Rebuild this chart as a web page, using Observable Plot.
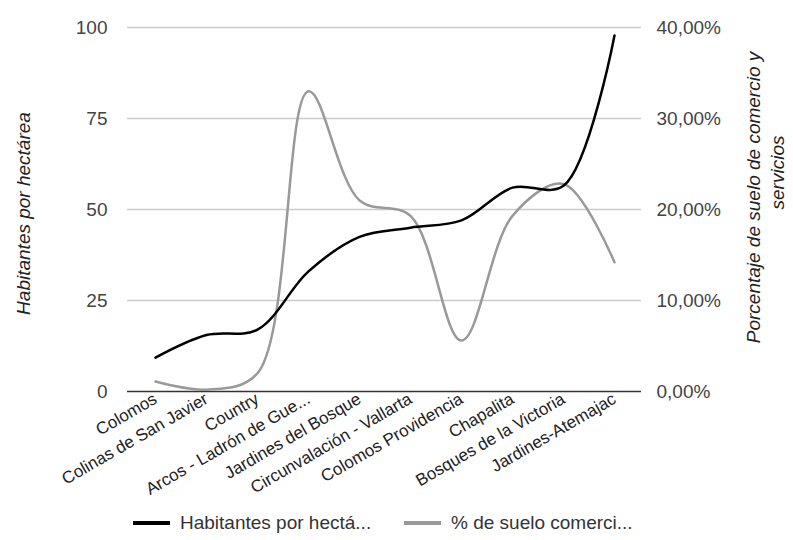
<!DOCTYPE html>
<html>
<head>
<meta charset="utf-8">
<script src="https://cdn.jsdelivr.net/npm/d3@7"></script>
<script src="https://cdn.jsdelivr.net/npm/@observablehq/plot@0.6"></script>
<style>
  body { margin: 0; background: #fff; font-family: Arial, "Liberation Sans", sans-serif; }
  #legend { position: relative; height: 40px; font-size: 19px; color: #333; }
  .item { position: absolute; top: 12px; display: flex; align-items: center; }
  .sw { width: 37px; height: 4px; margin-right: 10px; }
</style>
</head>
<body>
<div id="chart"></div>
<div id="legend"></div>
<script>
const categories = ["Colomos", "Colinas de San Javier", "Country", "Arcos - Ladrón de Gue...", "Jardines del Bosque", "Circunvalación - Vallarta", "Colomos Providencia", "Chapalita", "Bosques de la Victoria", "Jardines-Atemajac"];
const habitantes = [9.3, 15.5, 17, 33, 42.5, 45, 47, 56, 56.5, 97.8];
const pctSuelo = [0.011, 0.002, 0.02, 0.33, 0.21, 0.193, 0.056, 0.193, 0.228, 0.142];
const leftTicks = [0, 25, 50, 75, 100];
const rightTicks = [0, 0.1, 0.2, 0.3, 0.4];
const seriesNames = ["Habitantes por hectá...", "% de suelo comerci..."];
const leftTitle = "Habitantes por hectárea";
const rightTitleLines = ["Porcentaje de suelo de comercio y", "servicios"];

const ratio = 100 / 0.4;
const rowsH = categories.map((c, i) => ({cat: c, v: habitantes[i]}));
const rowsP = categories.map((c, i) => ({cat: c, v: pctSuelo[i] * ratio}));
const fmtPct = p => (p * 100).toFixed(2).replace(".", ",") + "%";
const font = "Arial, 'Liberation Sans', sans-serif";

const chart = Plot.plot({
  width: 793,
  height: 500,
  marginLeft: 127,
  marginRight: 152,
  marginTop: 27,
  marginBottom: 109,
  style: {fontFamily: font, fontSize: "19px", color: "#444", background: "#fff"},
  x: {type: "point", domain: categories, padding: 0.5},
  y: {domain: [0, 100]},
  marks: [
    Plot.gridY(leftTicks.filter(d => d > 0), {stroke: "#ccc", strokeOpacity: 1, strokeWidth: 1.5}),
    Plot.ruleY([0], {stroke: "#333", strokeWidth: 1.5}),
    Plot.axisY(leftTicks, {anchor: "left", tickSize: 0, tickPadding: 20, fontSize: 19, fill: "#444", label: null}),
    Plot.axisY(rightTicks.map(p => p * ratio), {anchor: "right", tickSize: 0, tickPadding: 15, fontSize: 19, fill: "#444", label: null, tickFormat: d => fmtPct(d / ratio)}),
    Plot.axisX({tickSize: 0, tickRotate: -30, tickPadding: 6, fontSize: 17, fill: "#222", label: null}),
    Plot.line(rowsP, {x: "cat", y: "v", stroke: "#999", strokeWidth: 2.5, curve: "catmull-rom"}),
    Plot.line(rowsH, {x: "cat", y: "v", stroke: "#000", strokeWidth: 2.5, curve: "catmull-rom"}),
    Plot.text([leftTitle], {frameAnchor: "left", dx: -104, dy: 4, rotate: -90, textAnchor: "middle", text: d => d, fontSize: 19, fontStyle: "italic", fill: "#222"}),
    Plot.text([rightTitleLines[0]], {frameAnchor: "right", dx: 112, dy: -12, rotate: -90, textAnchor: "middle", text: d => d, fontSize: 19, fontStyle: "italic", fill: "#222"}),
    Plot.text([rightTitleLines[1]], {frameAnchor: "right", dx: 136, dy: -37, rotate: -90, textAnchor: "middle", text: d => d, fontSize: 19, fontStyle: "italic", fill: "#222"})
  ]
});
document.getElementById("chart").appendChild(chart);

const legend = document.getElementById("legend");
const colors = ["#000", "#999"];
const lefts = [133, 404];
seriesNames.forEach((n, i) => {
  const it = document.createElement("div");
  it.className = "item";
  it.style.left = lefts[i] + "px";
  it.innerHTML = `<div class="sw" style="background:${colors[i]}"></div><span>${n}</span>`;
  legend.appendChild(it);
});
</script>
</body>
</html>
